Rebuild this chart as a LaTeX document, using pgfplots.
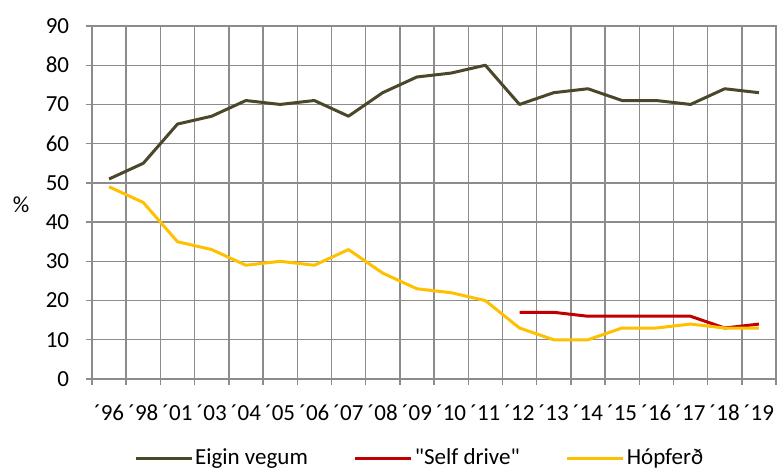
\documentclass[border=0pt]{standalone}
\usepackage{fontspec}
\setmainfont{Carlito}
\usepackage{pgfplots}
\pgfplotsset{compat=1.18}
\definecolor{eigin}{HTML}{4B472B}
\definecolor{selfd}{HTML}{C00000}
\definecolor{hopf}{HTML}{FFC000}
\definecolor{gridg}{HTML}{8C8C8C}
\newcommand{\cfont}{\fontsize{23bp}{27bp}\selectfont}
\newcommand{\dq}{\XeTeXglyph\XeTeXcharglyph"22\relax}
\begin{document}
\cfont
\begin{tikzpicture}
\begin{axis}[
  scale only axis, width=684bp, height=353bp,
  xmin=-0.5, xmax=19.5, ymin=0, ymax=90,
  xtick={0,...,19},
  xticklabels={´96,´98,´01,´03,´04,´05,´06,´07,´08,´09,´10,´11,´12,´13,´14,´15,´16,´17,´18,´19},
  minor xtick={-0.5,0.5,1.5,2.5,3.5,4.5,5.5,6.5,7.5,8.5,9.5,10.5,11.5,12.5,13.5,14.5,15.5,16.5,17.5,18.5,19.5},
  ytick={0,10,...,90},
  xmajorgrids=false, xminorgrids=true, ymajorgrids=true,
  grid style={gridg, line width=1.4bp},
  minor grid style={gridg, line width=1.4bp},
  axis line style={gridg, line width=1.4bp},
  tick style={gridg, line width=1.4bp},
  major x tick style={draw=none},
  tick align=outside, tick pos=left,
  major tick length=6bp, minor tick length=6bp,
  /pgf/number format/assume math mode=true,
  tick label style={font=\cfont, black},
  xticklabel style={yshift=-12bp},
  yticklabel style={xshift=-9bp},
  ylabel={\%},
  ylabel style={at={(axis description cs:-0.1038,0.493)}, rotate=-90, anchor=center, font=\cfont},
  legend style={at={(0.479,-0.224)}, anchor=center, draw=none, fill=none, legend columns=-1,
    font=\cfont, inner sep=0pt,
    /tikz/every even column/.append style={column sep=44bp}},
  legend image code/.code={\draw[#1] (0bp,0bp) -- (56bp,0bp);},
  every axis plot/.append style={line width=3bp, line join=round, no marks},
]
\addplot[eigin] coordinates {(0,51) (1,55) (2,65) (3,67) (4,71) (5,70) (6,71) (7,67) (8,73) (9,77) (10,78) (11,80) (12,70) (13,73) (14,74) (15,71) (16,71) (17,70) (18,74) (19,73)};
\addlegendentry{Eigin vegum}
\addplot[selfd] coordinates {(12,17) (13,17) (14,16) (15,16) (16,16) (17,16) (18,13) (19,14)};
\addlegendentry{\dq Self drive\dq}
\addplot[hopf] coordinates {(0,49) (1,45) (2,35) (3,33) (4,29) (5,30) (6,29) (7,33) (8,27) (9,23) (10,22) (11,20) (12,13) (13,10) (14,10) (15,13) (16,13) (17,14) (18,13) (19,13)};
\addlegendentry{Hópferð}
\end{axis}
\pgfresetboundingbox
\useasboundingbox (-92bp,-92bp) rectangle (686bp,379bp);
\end{tikzpicture}
\end{document}
